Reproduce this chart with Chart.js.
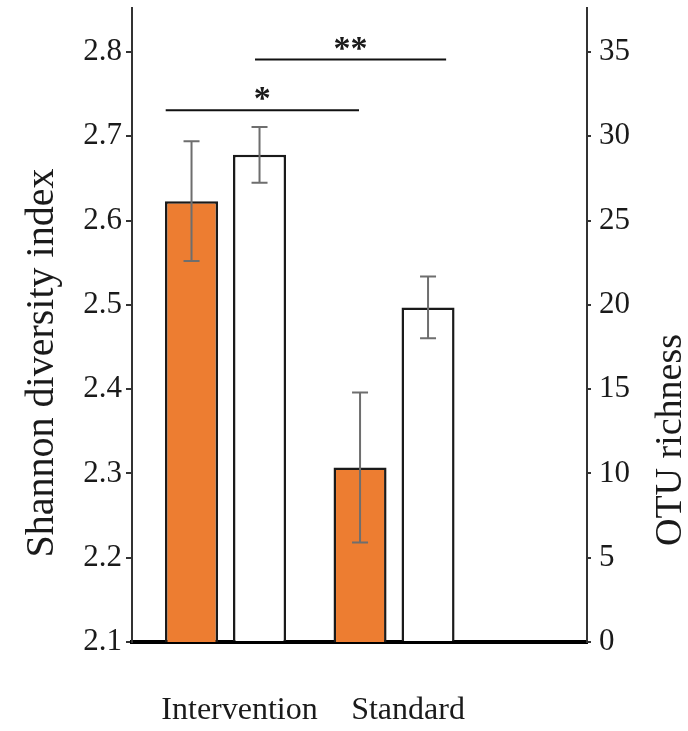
<!DOCTYPE html>
<html>
<head>
<meta charset="utf-8">
<script src="https://cdn.jsdelivr.net/npm/chart.js@4/dist/chart.umd.min.js"></script>
<style>
  html, body { margin: 0; padding: 0; background: #fff; }
  #wrap { width: 688px; height: 731px; position: relative; }
</style>
</head>
<body>
<div id="wrap"><canvas id="chart"></canvas></div>
<script>
const groups = ['Intervention', 'Standard'];
const groupPos = [1, 2];
const shannonMean = [2.623, 2.307];
const shannonErr = [0.071, 0.089];
const otuMean = [28.9, 19.85];
const otuErr = [1.65, 1.83];
const shannonTicks = [2.1, 2.2, 2.3, 2.4, 2.5, 2.6, 2.7, 2.8];
const otuTicks = [0, 5, 10, 15, 20, 25, 30, 35];
// significance bars: x in group units, level on the Shannon axis
const sigBrackets = [
  { from: 0.645, to: 1.792, level: 2.731, label: '*' },
  { from: 1.175, to: 2.309, level: 2.791, label: '**' },
];

const SERIF = "'Liberation Serif', 'DejaVu Serif', serif";
const INK = '#1a1a1a';

const errorBars = {
  id: 'errorBars',
  afterDatasetsDraw(chart) {
    const ctx = chart.ctx;
    ctx.save();
    ctx.strokeStyle = '#6e6e6e';
    ctx.lineWidth = 2;
    chart.data.datasets.forEach((ds, i) => {
      const meta = chart.getDatasetMeta(i);
      const scale = chart.scales[meta.yAxisID];
      meta.data.forEach((bar, j) => {
        const v = ds.data[j].y, e = ds.errors[j];
        const top = scale.getPixelForValue(v + e);
        const bot = scale.getPixelForValue(v - e);
        ctx.beginPath();
        ctx.moveTo(bar.x, top); ctx.lineTo(bar.x, bot);
        ctx.moveTo(bar.x - 8, top); ctx.lineTo(bar.x + 8, top);
        ctx.moveTo(bar.x - 8, bot); ctx.lineTo(bar.x + 8, bot);
        ctx.stroke();
      });
    });
    ctx.restore();
  },
};

const extras = {
  id: 'extras',
  afterDraw(chart) {
    const { ctx, scales: { x, y } } = chart;
    ctx.save();
    ctx.strokeStyle = '#111';
    ctx.fillStyle = INK;
    ctx.lineWidth = 2;
    ctx.textAlign = 'center';
    ctx.textBaseline = 'alphabetic';
    ctx.font = 'bold 34px ' + SERIF;
    sigBrackets.forEach(b => {
      const x1 = x.getPixelForValue(b.from), x2 = x.getPixelForValue(b.to);
      const yy = y.getPixelForValue(b.level);
      ctx.beginPath();
      ctx.moveTo(x1, yy); ctx.lineTo(x2, yy);
      ctx.stroke();
      ctx.fillText(b.label, (x1 + x2) / 2, yy - 1);
    });

    // axis titles, both read bottom to top
    ctx.textBaseline = 'middle';
    ctx.font = '40px ' + SERIF;
    ctx.translate(42, 363);
    ctx.rotate(-Math.PI / 2);
    ctx.fillText('Shannon diversity index', 0, 0);
    ctx.setTransform(1, 0, 0, 1, 0, 0);
    ctx.font = '38px ' + SERIF;
    ctx.translate(671, 440);
    ctx.rotate(-Math.PI / 2);
    ctx.fillText('OTU richness', 0, 0);
    ctx.restore();
  },
};

const noPad = s => { s.paddingTop = 0; s.paddingBottom = 0; s.paddingLeft = 0; s.paddingRight = 0; };

new Chart(document.getElementById('chart'), {
  type: 'bar',
  data: {
    datasets: [
      {
        label: 'Shannon diversity index',
        data: groupPos.map((g, i) => ({ x: g, y: shannonMean[i] })),
        errors: shannonErr,
        yAxisID: 'y',
        backgroundColor: '#ED7D31',
        borderColor: INK,
        borderWidth: 2.5,
        barPercentage: 0.78,
        categoryPercentage: 0.807,
      },
      {
        label: 'OTU richness',
        data: groupPos.map((g, i) => ({ x: g, y: otuMean[i] })),
        errors: otuErr,
        yAxisID: 'y1',
        backgroundColor: '#ffffff',
        borderColor: INK,
        borderWidth: 2.5,
        barPercentage: 0.78,
        categoryPercentage: 0.807,
      },
    ],
  },
  options: {
    responsive: true,
    maintainAspectRatio: false,
    animation: false,
    layout: { padding: { top: 8, left: 0, right: 0, bottom: 0 } },
    plugins: { legend: { display: false }, tooltip: { enabled: false } },
    scales: {
      x: {
        type: 'linear',
        offset: false,
        min: 0.445,
        max: 3.145,
        afterBuildTicks: s => { s.ticks = groupPos.map(v => ({ value: v })); },
        afterFit: s => { s.height = 89; noPad(s); },
        grid: { display: false, drawTicks: false },
        border: { display: true, color: '#000', width: 4 },
        ticks: {
          callback: (v, i) => groups[i],
          labelOffset: 14,
          padding: 49,
          color: INK,
          font: { family: SERIF, size: 32 },
        },
      },
      y: {
        position: 'left',
        min: 2.1,
        max: 2.8522,
        afterBuildTicks: s => { s.ticks = shannonTicks.map(v => ({ value: v })); },
        afterFit: s => { s.width = 132; noPad(s); },
        grid: { drawOnChartArea: false, tickLength: 6, color: '#333', lineWidth: 2 },
        border: { color: '#333', width: 2 },
        ticks: {
          callback: v => v.toFixed(1),
          padding: 4,
          color: INK,
          font: { family: SERIF, size: 31 },
        },
      },
      y1: {
        position: 'right',
        min: 0,
        max: 37.61,
        afterBuildTicks: s => { s.ticks = otuTicks.map(v => ({ value: v })); },
        afterFit: s => { s.width = 101; noPad(s); },
        grid: { drawOnChartArea: false, tickLength: 4, color: '#333', lineWidth: 2 },
        border: { color: '#333', width: 2 },
        ticks: {
          padding: 8,
          color: INK,
          font: { family: SERIF, size: 31 },
        },
      },
    },
  },
  plugins: [errorBars, extras],
});
</script>
</body>
</html>
